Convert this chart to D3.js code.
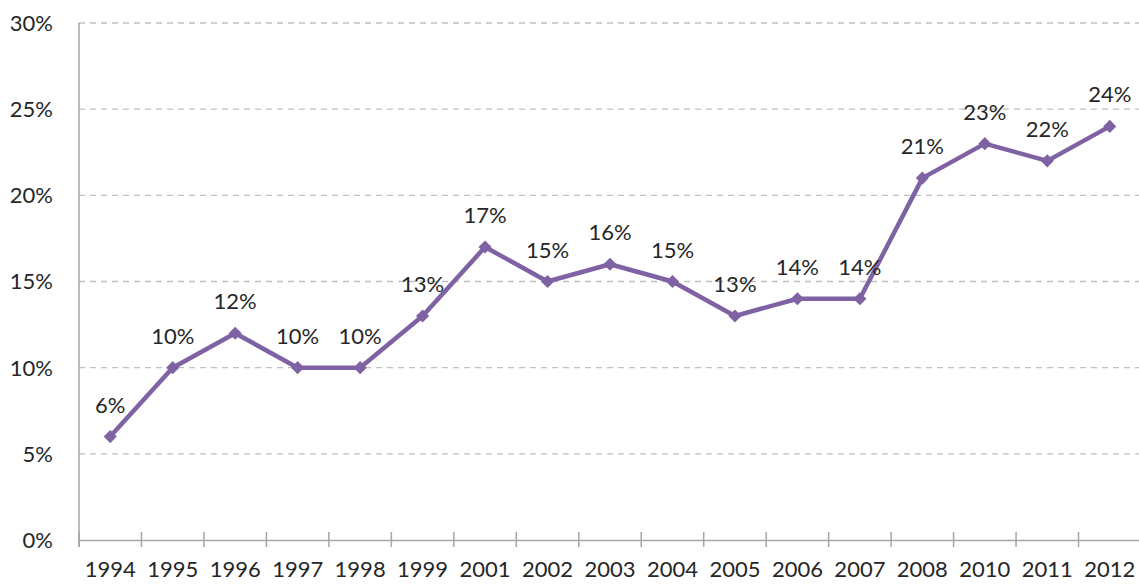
<!DOCTYPE html>
<html>
<head>
<meta charset="utf-8">
<script src="https://cdn.jsdelivr.net/npm/d3@7"></script>
<style>
  body { margin: 0; background: #fff; }
  text { font-family: Lato, "Open Sans", sans-serif; fill: #262626; }
</style>
</head>
<body>
<script>
// data
const years = ["1994","1995","1996","1997","1998","1999","2001","2002","2003","2004","2005","2006","2007","2008","2010","2011","2012"];
const shares = [6, 10, 12, 10, 10, 13, 17, 15, 16, 15, 13, 14, 14, 21, 23, 22, 24];
const yTicks = [0, 5, 10, 15, 20, 25, 30];

const width = 1139, height = 584;
const fs = "22px";
const svg = d3.select("body").append("svg")
    .attr("width", width)
    .attr("height", height);

const x = d3.scaleBand().domain(years).range([79, 1141]);
const y = d3.scaleLinear().domain([0, 30]).range([540, 23]);

// grid lines
svg.append("g").selectAll("line")
    .data(yTicks.filter(d => d > 0))
    .enter().append("line")
    .attr("x1", 79).attr("x2", width)
    .attr("y1", d => y(d)).attr("y2", d => y(d))
    .attr("stroke", "#c0c0c0")
    .attr("stroke-width", 1.3)
    .attr("stroke-dasharray", "6,5");

// y labels
svg.append("g").selectAll("text")
    .data(yTicks)
    .enter().append("text")
    .attr("x", 53)
    .attr("y", d => y(d))
    .attr("dy", "0.36em")
    .attr("text-anchor", "end")
    .attr("font-size", fs)
    .text(d => d + "%");

// axes lines
svg.append("line")
    .attr("x1", 79).attr("x2", 79).attr("y1", 23).attr("y2", 547)
    .attr("stroke", "#a6a6a6").attr("stroke-width", 1.5);

const xAxis = svg.append("g")
    .attr("transform", "translate(0,540)")
    .call(d3.axisBottom(x).tickSize(0).tickFormat(d => d).tickPadding(21));
xAxis.select(".domain").attr("stroke", "#a6a6a6").attr("stroke-width", 1.5);
xAxis.selectAll("text").attr("font-size", fs).attr("fill", "#262626")
    .style("font-family", "Lato, 'Open Sans', sans-serif");

// tick marks between categories
svg.append("g").selectAll("line")
    .data(years)
    .enter().append("line")
    .attr("x1", d => x(d)).attr("x2", d => x(d))
    .attr("y1", 532).attr("y2", 547)
    .attr("stroke", "#a6a6a6").attr("stroke-width", 1.5);

// the line
const line = d3.line()
    .x((d, i) => x(years[i]) + x.bandwidth() / 2)
    .y(d => y(d));

svg.append("path")
    .datum(shares)
    .attr("d", line)
    .attr("fill", "none")
    .attr("stroke", "#7f62a3")
    .attr("stroke-width", 4.5)
    .attr("stroke-linejoin", "round");

// diamond markers
svg.append("g").selectAll("path")
    .data(shares)
    .enter().append("path")
    .attr("d", d3.symbol().type(d3.symbolDiamond2).size(110))
    .attr("transform", (d, i) => `translate(${x(years[i]) + x.bandwidth() / 2},${y(d)})`)
    .attr("fill", "#7f62a3");

// data labels
svg.append("g").selectAll("text")
    .data(shares)
    .enter().append("text")
    .attr("x", (d, i) => x(years[i]) + x.bandwidth() / 2)
    .attr("y", d => y(d) - 24)
    .attr("text-anchor", "middle")
    .attr("font-size", fs)
    .text(d => d + "%");
</script>
</body>
</html>
